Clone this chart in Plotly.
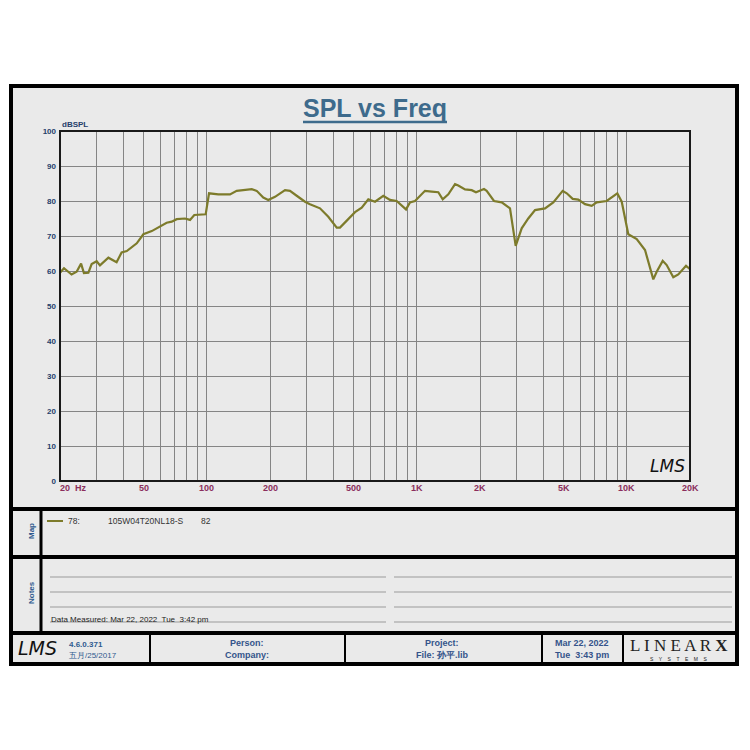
import math
import plotly.graph_objects as go

# ---------------- data ----------------
freq_hz = [20, 20.9, 22.7, 24.0, 25.2, 26.0, 27.3, 28.3, 29.9, 31.0, 34.0, 37.2, 39.3, 41.6,
           46.4, 49.9, 54.7, 58.8, 64.4, 68.1, 71.9, 78.7, 83.2, 87.2, 92.8, 98.8, 102.5,
           113.5, 129, 138.8, 149, 163.7, 172.9, 185.8, 196.3, 211.3, 235.8, 249, 268,
           293.6, 310, 346, 379, 415.7, 430.9, 472, 508, 546.7, 587.8, 632.5, 692.7,
           745.6, 802, 888.6, 928, 980.6, 1094, 1178, 1266, 1329, 1413, 1521, 1576, 1697,
           1826, 1914, 2090, 2152, 2332, 2538, 2779, 2958, 3159, 3396, 3657, 4079, 4467,
           4952, 5177, 5526, 5876, 6325, 6807, 7190, 8022, 9014, 9460, 10168, 11150,
           12214, 12658, 13374, 13880, 14826, 15490, 16652, 17590, 19144, 20000]
spl_db = [59.5, 60.8, 59.0, 59.8, 62.1, 59.4, 59.5, 62.0, 62.8, 61.6, 63.8, 62.5, 65.3, 65.7,
          67.9, 70.5, 71.4, 72.4, 73.8, 74.1, 74.8, 75.0, 74.6, 76.0, 76.0, 76.2, 82.2,
          81.9, 81.9, 82.9, 83.1, 83.4, 82.9, 81.0, 80.3, 81.2, 83.1, 82.9, 81.5,
          79.8, 79.1, 77.9, 75.5, 72.4, 72.4, 75.0, 76.8, 78.1, 80.5, 79.8, 81.5,
          80.3, 80.0, 77.6, 79.6, 80.0, 82.9, 82.7, 82.5, 80.5, 81.9, 84.8, 84.4, 83.3,
          83.1, 82.5, 83.4, 82.9, 80.0, 79.6, 77.9, 67.2, 72.2, 75.0, 77.4, 77.9, 79.6,
          82.9, 82.2, 80.6, 80.4, 79.1, 78.6, 79.6, 80.0, 82.2, 79.8, 70.5, 69.1,
          66.0, 62.7, 57.6, 59.8, 62.9, 61.7, 58.2, 59.0, 61.5, 60.5]

x_grid_vals = [20, 30, 40, 50, 60, 70, 80, 90,
               100, 200, 300, 400, 500, 600, 700, 800, 900,
               1000, 2000, 3000, 4000, 5000, 6000, 7000, 8000, 9000,
               10000, 20000]
x_label_vals = [50, 100, 200, 500, 1000, 2000, 5000, 10000, 20000]
x_label_text = ["50", "100", "200", "500", "1K", "2K", "5K", "10K", "20K"]
x_first_label = "20\u00a0\u00a0Hz"
y_tick_vals = [0, 10, 20, 30, 40, 50, 60, 70, 80, 90, 100]

title_text = "SPL vs Freq"
y_unit = "dBSPL"
legend_id = "78:"
legend_name = "105W04T20NL18-S"
legend_val = "82"
measured_text = "Data Measured: Mar 22, 2022  Tue  3:42 pm"

CURVE = "#7d7b2b"
FONT = "Liberation Sans"
XLAB = "#8b2e5c"
OFF = 8            # page body margin of the html page
W = H = 750 - OFF


def px(x):
    return (x - OFF) / W


def py(y):
    return 1 - (y - OFF) / H


fig = go.Figure()
fig.add_trace(go.Scatter(x=freq_hz, y=spl_db, mode="lines",
                         line=dict(color=CURVE, width=2.2), showlegend=False,
                         hoverinfo="skip"))

shapes = []
# outer frame / panel background
shapes.append(dict(type="rect", xref="paper", yref="paper", x0=px(11), x1=px(737),
                   y0=py(86), y1=py(664), fillcolor="#eaeaea",
                   line=dict(color="black", width=4), layer="below"))
# horizontal dividers
for yy in (509, 557, 633):
    shapes.append(dict(type="line", xref="paper", yref="paper", x0=px(11), x1=px(737),
                       y0=py(yy), y1=py(yy), line=dict(color="black", width=4)))
# left column divider (Map / Notes)
shapes.append(dict(type="line", xref="paper", yref="paper", x0=px(41), x1=px(41),
                   y0=py(509), y1=py(633), line=dict(color="black", width=3)))
# footer dividers
for xx in (150, 345, 542, 623):
    shapes.append(dict(type="line", xref="paper", yref="paper", x0=px(xx), x1=px(xx),
                       y0=py(633), y1=py(664), line=dict(color="black", width=2)))
# notes lines
for yy in (577, 592, 607, 622):
    shapes.append(dict(type="line", xref="paper", yref="paper", x0=px(50), x1=px(386),
                       y0=py(yy), y1=py(yy), line=dict(color="#9a9a9a", width=1)))
    shapes.append(dict(type="line", xref="paper", yref="paper", x0=px(394), x1=px(732),
                       y0=py(yy), y1=py(yy), line=dict(color="#9a9a9a", width=1)))
# title underline
shapes.append(dict(type="line", xref="paper", yref="paper", x0=px(303), x1=px(447),
                   y0=py(122), y1=py(122), line=dict(color="#3e6b8c", width=2.5)))
# legend sample line
shapes.append(dict(type="line", xref="paper", yref="paper", x0=px(47), x1=px(63),
                   y0=py(521), y1=py(521), line=dict(color=CURVE, width=2)))
# plot border
shapes.append(dict(type="rect", xref="x domain", yref="y domain", x0=0, x1=1, y0=0, y1=1,
                   line=dict(color="#1a1a1a", width=2), layer="above"))

ann = []


def add_text(text, x, y, size, color, xanchor="center", bold=False, italic=False,
             family=FONT, angle=0):
    t = text
    if bold:
        t = "<b>" + t + "</b>"
    if italic:
        t = "<i>" + t + "</i>"
    ann.append(dict(text=t, x=px(x), y=py(y), xref="paper", yref="paper",
                    xanchor=xanchor, yanchor="middle", showarrow=False,
                    textangle=angle, font=dict(family=family, size=size, color=color)))


add_text(title_text, 375, 108, 25, "#3e6b8c", bold=True)
add_text(y_unit, 60, 124, 8, "#25406a", xanchor="left", bold=True)
add_text("LMS", 667, 466, 17, "#111111", italic=True, family="DejaVu Sans")

# x tick labels (annotations on the x axis)
ann.append(dict(text="<b>" + x_first_label + "</b>", x=math.log10(freq_hz[0]), y=py(488),
                xref="x", yref="paper", xanchor="left", yanchor="middle", showarrow=False,
                xshift=-2, font=dict(family=FONT, size=9, color=XLAB)))
for v, t in zip(x_label_vals, x_label_text):
    ann.append(dict(text="<b>" + t + "</b>", x=math.log10(v), y=py(488),
                    xref="x", yref="paper", xanchor="center", yanchor="middle",
                    showarrow=False, font=dict(family=FONT, size=9, color=XLAB)))

# map legend
add_text(legend_id, 66, 521, 8.5, "#333333", xanchor="left")
add_text(legend_name, 106, 521, 8.5, "#333333", xanchor="left")
add_text(legend_val, 199, 521, 8.5, "#333333", xanchor="left")
add_text("Map", 31, 531, 8, "#2f5a8f", bold=True, angle=-90)
add_text("Notes", 31, 593, 8, "#2f5a8f", bold=True, angle=-90)
add_text(measured_text, 49, 619, 8, "#222222", xanchor="left")

# footer
add_text("LMS", 38, 648, 19, "#111111", italic=True, family="DejaVu Sans")
add_text("4.6.0.371", 67, 644, 8, "#2f5a8f", xanchor="left", bold=True)
add_text("五月/25/2017", 67, 655, 8, "#2f5a8f", xanchor="left")
add_text("Person:", 247, 643, 9, "#34548a", bold=True)
add_text("Company:", 247, 655, 9, "#34548a", bold=True)
add_text("Project:", 442, 643, 9, "#34548a", bold=True)
add_text("File: 孙平.lib", 442, 655, 9, "#34548a", bold=True)
add_text("Mar 22, 2022", 582, 643, 9, "#34548a", bold=True)
add_text("Tue  3:43 pm", 582, 655, 9, "#34548a", bold=True)
add_text("L I N E A R <b>X</b>", 679, 645, 17, "#222222", family="Liberation Serif")
add_text("S    Y    S    T    E    M    S", 679, 659, 5, "#222222")

fig.update_layout(
    width=W, height=H, margin=dict(l=0, r=0, t=0, b=0, autoexpand=False),
    paper_bgcolor="white", plot_bgcolor="white",
    shapes=shapes, annotations=ann,
    font=dict(family=FONT),
    xaxis=dict(type="log", domain=[px(60), px(690)],
               range=[math.log10(20), math.log10(20000)], tickvals=x_grid_vals,
               showticklabels=False, automargin=False,
               showgrid=True, gridcolor="#858585", gridwidth=1,
               zeroline=False, showline=False, ticks="", fixedrange=True),
    yaxis=dict(domain=[py(481), py(131)], range=[0, 100], tickvals=y_tick_vals,
               ticktext=["<b>%d</b>" % v for v in y_tick_vals],
               tickfont=dict(size=8, color="#25406a", family=FONT),
               showgrid=True, gridcolor="#858585", gridwidth=1, automargin=False,
               zeroline=False, showline=False, ticks="", ticklabelstandoff=3,
               fixedrange=True),
)

fig.write_html("out.html", config={"displayModeBar": False})
